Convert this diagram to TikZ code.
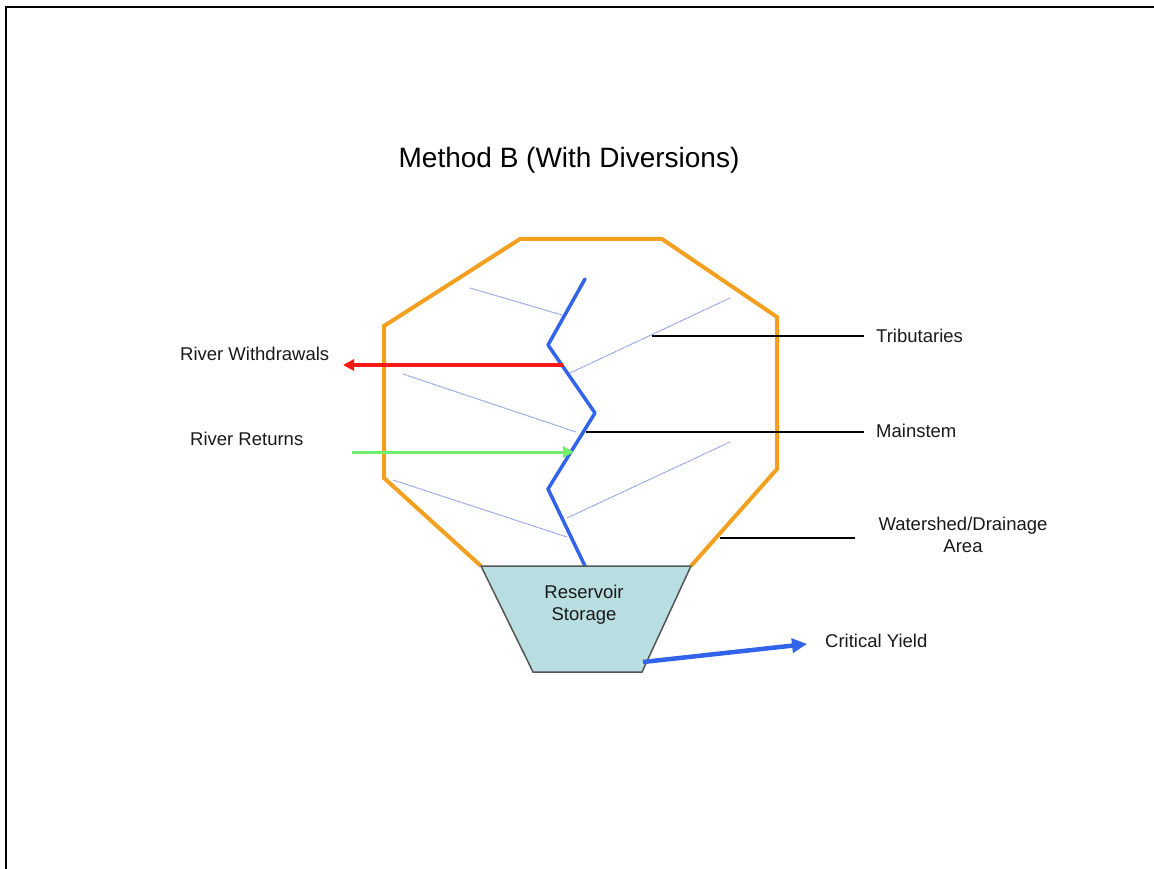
\documentclass[tikz,border=0pt]{standalone}
\usepackage{fontspec}
\setmainfont{Liberation Sans}
\usetikzlibrary{arrows.meta}
\definecolor{shedorange}{RGB}{243,160,32}
\definecolor{riverblue}{RGB}{50,100,235}
\definecolor{tribblue}{RGB}{135,150,225}
\definecolor{withred}{RGB}{250,25,25}
\definecolor{retgreen}{RGB}{110,240,110}
\definecolor{resfill}{RGB}{185,222,225}
\definecolor{resedge}{RGB}{85,85,85}
\tikzset{
  shed/.style={draw=shedorange,line width=4pt,line join=miter},
  mainstem/.style={draw=riverblue,line width=3.5pt,line join=round,line cap=round},
  trib/.style={draw=tribblue,line width=1pt,dash pattern=on 1.2pt off 0.6pt},
  leader/.style={draw=black,line width=1.3pt},
  lbl/.style={font=\fontsize{18.5}{22}\selectfont,inner sep=0pt,text=black!90},
  flowarrow/.style={line width=3.5pt,-{Triangle[length=11pt,width=11pt]}},
}
\begin{document}
\begin{tikzpicture}[x=1pt,y=-1pt]
\useasboundingbox (0,0) rectangle (1154,869);
% frame (top and left edges)
\draw[line width=2.5pt] (6,869) -- (6,7) -- (1154,7);
% title
\node[font=\fontsize{28}{32}\selectfont,anchor=base] (title) at (569,168) {Method B (With Diversions)};
% watershed octagon
\coordinate (o1) at (520,239);
\coordinate (o2) at (662,239);
\coordinate (o3) at (777,317);
\coordinate (o4) at (777,469);
\coordinate (o5) at (691,566);
\coordinate (o6) at (481,566);
\coordinate (o7) at (384,478);
\coordinate (o8) at (384,326);
\draw[shed] (o5) -- (o4) -- (o3) -- (o2) -- (o1) -- (o8) -- (o7) -- (o6);
% tributaries
\coordinate (t1a) at (470,288); \coordinate (t1b) at (562,315);
\coordinate (t2a) at (730,298); \coordinate (t2b) at (570,373);
\coordinate (t3a) at (403,374); \coordinate (t3b) at (576,432);
\coordinate (t4a) at (730,442); \coordinate (t4b) at (567,518);
\coordinate (t5a) at (393,480); \coordinate (t5b) at (567,537);
\draw[trib] (t1a) -- (t1b);
\draw[trib] (t2a) -- (t2b);
\draw[trib] (t3a) -- (t3b);
\draw[trib] (t4a) -- (t4b);
\draw[trib] (t5a) -- (t5b);
% mainstem
\coordinate (m1) at (585,279);
\coordinate (m2) at (548,345);
\coordinate (m3) at (595,413);
\coordinate (m4) at (548,489);
\coordinate (m5) at (585,566);
\draw[mainstem] (m1) -- (m2) -- (m3) -- (m4) -- (m5);
% reservoir
\coordinate (r1) at (481,566);
\coordinate (r2) at (691,566);
\coordinate (r3) at (642,672);
\coordinate (r4) at (533,672);
\draw[fill=resfill,draw=resedge,line width=1.5pt] (r1) -- (r2) -- (r3) -- (r4) -- cycle;
\node[lbl,align=center,anchor=north] (res) at (584,585) {Reservoir\\Storage};
% withdrawals and returns
\coordinate (wd) at (563,365);
\coordinate (wdend) at (343,365);
\draw[flowarrow,draw=withred,fill=withred] (wd) -- (wdend);
\coordinate (rtstart) at (352,452);
\coordinate (rt) at (574,452);
\draw[flowarrow,line width=3pt,draw=retgreen,fill=retgreen] (rtstart) -- (rt);
\node[lbl,anchor=base west] (wdl) at (180,360) {River Withdrawals};
\node[lbl,anchor=base west] (rtl) at (190,445) {River Returns};
% critical yield
\coordinate (cy) at (643,662);
\node[lbl,anchor=base west] (cyl) at (825,647) {Critical Yield};
\coordinate (cyend) at (807,644);
\draw[line width=4.5pt,draw=riverblue,fill=riverblue,-{Triangle[length=15pt,width=14pt]}] (cy) -- (cyend);
% leaders and labels on the right
\coordinate (lt) at (652,336);
\coordinate (lm) at (586,432);
\coordinate (lw) at (720,538);
\node[lbl,anchor=base west] (tribl) at (876,342) {Tributaries};
\node[lbl,anchor=base west] (msl) at (876,437) {Mainstem};
\node[lbl,align=center,anchor=north] (wsl) at (963,517) {Watershed/Drainage\\Area};
\draw[leader] (lt) -- (864,336);
\draw[leader] (lm) -- (864,432);
\draw[leader] (lw) -- (855,538);
\end{tikzpicture}
\end{document}
